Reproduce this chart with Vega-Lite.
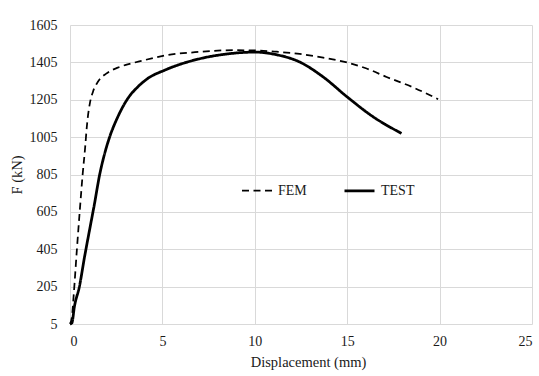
{
  "$schema": "https://vega.github.io/schema/vega-lite/v6.json",
  "width": 462,
  "height": 299,
  "autosize": "none",
  "padding": {"left": 70, "top": 25, "right": 7, "bottom": 52},
  "background": "white",
  "config": {
    "view": {"stroke": null},
    "font": "Liberation Serif, Times New Roman, serif",
    "axis": {"labelFont": "Liberation Serif, Times New Roman, serif", "titleFont": "Liberation Serif, Times New Roman, serif", "labelFontSize": 14, "titleFontSize": 14.5, "titleFontWeight": "normal", "labelColor": "#1a1a1a", "titleColor": "#1a1a1a", "gridColor": "#d9d9d9", "gridWidth": 1, "domain": false, "ticks": false},
    "legend": {"labelFont": "Liberation Serif, Times New Roman, serif", "labelFontSize": 14, "labelColor": "#1a1a1a"}
  },
  "data": {"values": [
    {"s": "FEM", "x": 0, "y": 5},
    {"s": "FEM", "x": 0.1, "y": 40},
    {"s": "FEM", "x": 0.2, "y": 160},
    {"s": "FEM", "x": 0.37, "y": 400},
    {"s": "FEM", "x": 0.52, "y": 600},
    {"s": "FEM", "x": 0.68, "y": 800},
    {"s": "FEM", "x": 0.82, "y": 950},
    {"s": "FEM", "x": 0.91, "y": 1060},
    {"s": "FEM", "x": 0.98, "y": 1125},
    {"s": "FEM", "x": 1.08, "y": 1188},
    {"s": "FEM", "x": 1.24, "y": 1247},
    {"s": "FEM", "x": 1.51, "y": 1301},
    {"s": "FEM", "x": 1.96, "y": 1345},
    {"s": "FEM", "x": 2.59, "y": 1377},
    {"s": "FEM", "x": 3.3, "y": 1399},
    {"s": "FEM", "x": 3.86, "y": 1413},
    {"s": "FEM", "x": 5.21, "y": 1443},
    {"s": "FEM", "x": 7.0, "y": 1461},
    {"s": "FEM", "x": 8.82, "y": 1470},
    {"s": "FEM", "x": 10.0, "y": 1469},
    {"s": "FEM", "x": 11.17, "y": 1462},
    {"s": "FEM", "x": 12.43, "y": 1450},
    {"s": "FEM", "x": 13.7, "y": 1430},
    {"s": "FEM", "x": 15.0, "y": 1404},
    {"s": "FEM", "x": 16.05, "y": 1372},
    {"s": "FEM", "x": 17.13, "y": 1327},
    {"s": "FEM", "x": 18.57, "y": 1271},
    {"s": "FEM", "x": 19.92, "y": 1208},
    {"s": "TEST", "x": 0, "y": 5},
    {"s": "TEST", "x": 0.1, "y": 10},
    {"s": "TEST", "x": 0.24, "y": 99},
    {"s": "TEST", "x": 0.51, "y": 206},
    {"s": "TEST", "x": 0.79, "y": 366},
    {"s": "TEST", "x": 1.06, "y": 509},
    {"s": "TEST", "x": 1.33, "y": 651},
    {"s": "TEST", "x": 1.6, "y": 802},
    {"s": "TEST", "x": 1.83, "y": 900},
    {"s": "TEST", "x": 2.14, "y": 1004},
    {"s": "TEST", "x": 2.59, "y": 1114},
    {"s": "TEST", "x": 3.13, "y": 1212},
    {"s": "TEST", "x": 3.67, "y": 1274},
    {"s": "TEST", "x": 4.21, "y": 1319},
    {"s": "TEST", "x": 5.12, "y": 1363},
    {"s": "TEST", "x": 7.0, "y": 1424},
    {"s": "TEST", "x": 8.5, "y": 1450},
    {"s": "TEST", "x": 10.0, "y": 1460},
    {"s": "TEST", "x": 11.17, "y": 1446},
    {"s": "TEST", "x": 12.43, "y": 1407},
    {"s": "TEST", "x": 13.7, "y": 1327},
    {"s": "TEST", "x": 15.0, "y": 1220},
    {"s": "TEST", "x": 16.4, "y": 1114},
    {"s": "TEST", "x": 17.94, "y": 1025}
  ]},
  "mark": {"type": "line", "interpolate": "monotone", "color": "black"},
  "encoding": {
    "x": {"field": "x", "type": "quantitative", "scale": {"domain": [0, 25], "nice": false, "zero": false},
      "axis": {"values": [0, 5, 10, 15, 20, 25], "format": "d", "title": "Displacement (mm)", "labelPadding": 10, "titlePadding": 7, "titleX": 238}},
    "y": {"field": "y", "type": "quantitative", "scale": {"domain": [5, 1605], "nice": false, "zero": false},
      "axis": {"values": [5, 205, 405, 605, 805, 1005, 1205, 1405, 1605], "format": "d", "title": "F (kN)", "labelPadding": 13, "titlePadding": 5}},
    "strokeDash": {"field": "s", "type": "nominal", "scale": {"domain": ["FEM", "TEST"], "range": [[7, 4.5], [1, 0]]},
      "legend": {"title": null, "orient": "none", "legendX": 171, "legendY": 149, "direction": "horizontal", "symbolType": "stroke", "symbolSize": 900, "symbolStrokeColor": "black", "symbolStrokeWidth": 2, "columnPadding": 32, "labelOffset": 5}},
    "strokeWidth": {"field": "s", "type": "nominal", "scale": {"domain": ["FEM", "TEST"], "range": [1.75, 2.75]}, "legend": null}
  }
}
